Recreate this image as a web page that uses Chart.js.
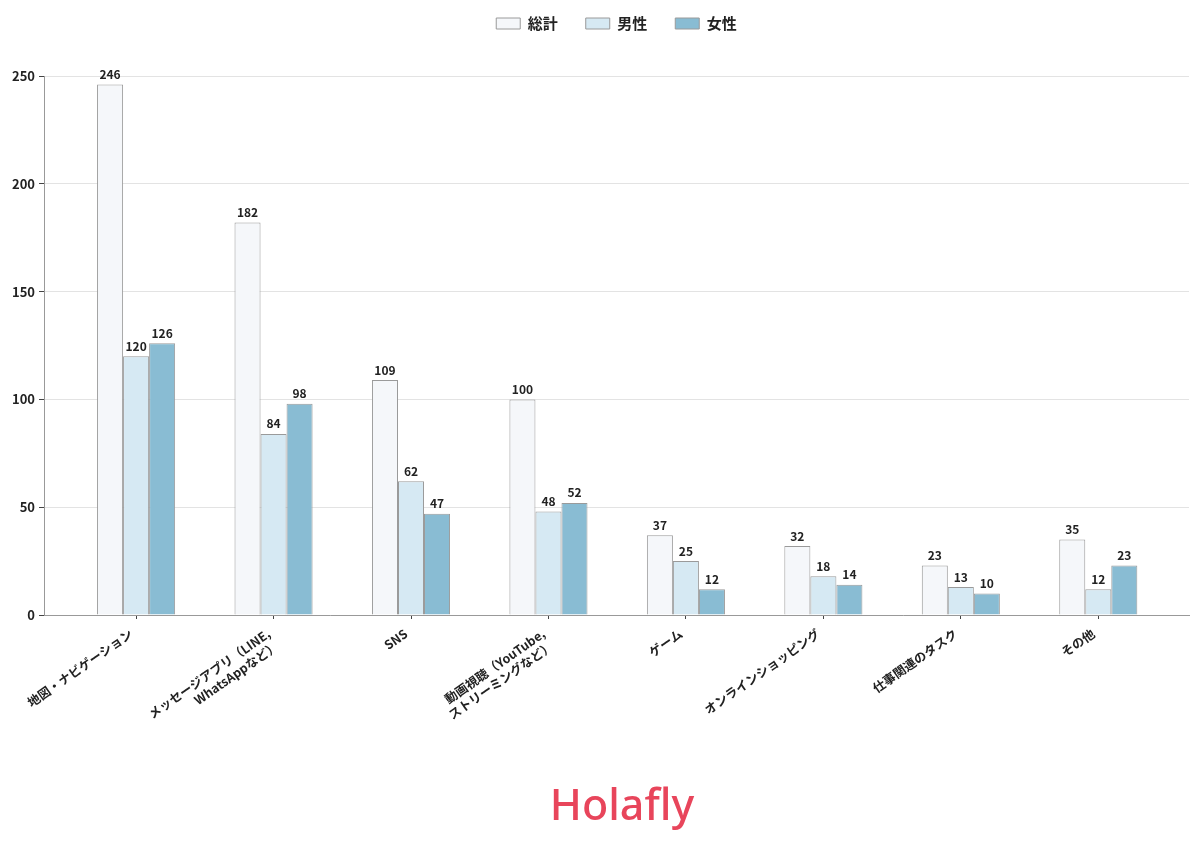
<!DOCTYPE html>
<html lang="ja">
<head>
    <meta charset="UTF-8">
    <title>利用目的</title>
    <script src="https://cdn.jsdelivr.net/npm/chart.js"></script>
    <style>
        html, body { margin: 0; padding: 0; background: #fff; }
        #wrap { position: relative; width: 1200px; height: 856px; }
        #logo {
            position: absolute; left: 44px; width: 1156px; top: 774px;
            text-align: center; font-family: "Noto Sans", "Open Sans", sans-serif;
            font-size: 43px; font-weight: 500; color: #e8455b;
        }
    </style>
</head>
<body>
<div id="wrap">
    <canvas id="chart"></canvas>
    <div id="logo">Holafly</div>
</div>
<script>
// categories and values
const categories = [
    '地図・ナビゲーション',
    ['メッセージアプリ（LINE,', 'WhatsAppなど）'],
    'SNS',
    ['動画視聴（YouTube,', 'ストリーミングなど）'],
    'ゲーム',
    'オンラインショッピング',
    '仕事関連のタスク',
    'その他'
];
const seriesNames = ['総計', '男性', '女性'];
const totalValues = [246, 182, 109, 100, 37, 32, 23, 35];
const maleValues = [120, 84, 62, 48, 25, 18, 13, 12];
const femaleValues = [126, 98, 47, 52, 12, 14, 10, 23];
const yTicks = [0, 50, 100, 150, 200, 250];

const fontFamily = '"Noto Sans CJK JP", "Noto Sans", sans-serif';
const colors = ['#f5f7fa', '#d6e9f3', '#89bcd3'];

// value labels above each bar
const barLabels = {
    id: 'barLabels',
    afterDatasetsDraw(chart) {
        const ctx = chart.ctx;
        ctx.save();
        ctx.font = 'bold 12px ' + fontFamily;
        ctx.fillStyle = '#222';
        ctx.textAlign = 'center';
        ctx.textBaseline = 'bottom';
        chart.data.datasets.forEach((ds, i) => {
            chart.getDatasetMeta(i).data.forEach((bar, j) => {
                ctx.fillText(ds.data[j].y, bar.x, bar.y - 4);
            });
        });
        ctx.restore();
    }
};

// extra room under the legend, and centre it over the plot area
const legendSpacer = {
    id: 'legendSpacer',
    beforeInit(chart) {
        const fit = chart.legend.fit;
        chart.legend.fit = function () {
            fit.call(this);
            this.height += 35;
        };
    },
    afterLayout(chart) {
        chart.legend.left = chart.chartArea.left;
        chart.legend.right = chart.chartArea.right;
    }
};

const seriesData = [totalValues, maleValues, femaleValues];

new Chart(document.getElementById('chart'), {
    type: 'bar',
    data: {
        datasets: seriesNames.map((name, i) => ({
            label: name,
            data: seriesData[i].map((v, j) => ({ x: j, y: v })),
            backgroundColor: colors[i],
            borderColor: '#9a9a9a',
            borderWidth: 1,
            categoryPercentage: 0.568,
            barPercentage: 1.0
        }))
    },
    options: {
        responsive: true,
        maintainAspectRatio: false,
        animation: false,
        layout: { padding: { top: -12, left: 6, right: 11, bottom: 0 } },
        plugins: {
            tooltip: { enabled: false },
            legend: {
                position: 'top',
                labels: {
                    boxWidth: 24,
                    boxHeight: 11,
                    padding: 28,
                    color: '#222',
                    font: { family: fontFamily, size: 15, weight: 'bold' }
                }
            }
        },
        scales: {
            x: {
                type: 'linear',
                offset: false,
                min: -0.67,
                max: categories.length - 1 + 0.66,
                afterBuildTicks(scale) { scale.ticks = categories.map((c, i) => ({ value: i })); },
                grid: { display: true, offset: false, drawOnChartArea: false, color: '#444', tickLength: 4 },
                border: { color: '#999' },
                ticks: {
                    autoSkip: false,
                    minRotation: 35,
                    maxRotation: 35,
                    color: '#222',
                    padding: 7,
                    labelOffset: -5,
                    font: { family: fontFamily, size: 12.5, weight: 'bold' },
                    callback: (v) => categories[v]
                },
                afterFit(scale) { scale.height = 241; }
            },
            y: {
                min: 0,
                max: 250,
                afterBuildTicks(scale) { scale.ticks = yTicks.map(v => ({ value: v })); },
                grid: { color: '#e3e3e3', tickLength: 5, tickColor: '#444' },
                border: { color: '#999' },
                ticks: {
                    color: '#222',
                    padding: 4,
                    font: { family: fontFamily, size: 13, weight: 'bold' }
                },
                afterFit(scale) { scale.width = 38; }
            }
        }
    },
    plugins: [barLabels, legendSpacer]
});
</script>
</body>
</html>
